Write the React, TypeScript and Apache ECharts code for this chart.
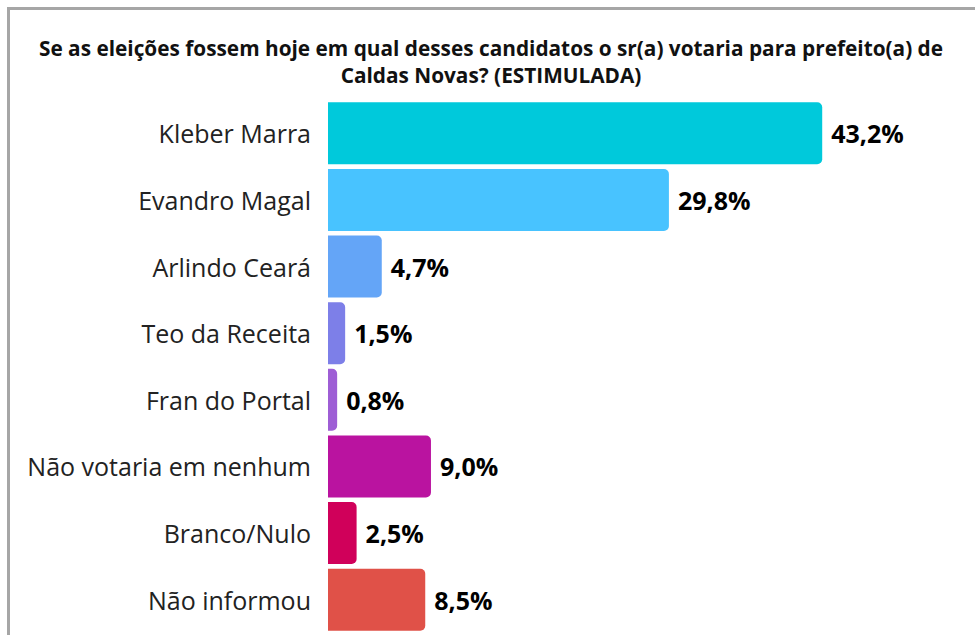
import React, { useEffect, useRef } from "react";
import * as echarts from "echarts";

const categories = [
  "Kleber Marra",
  "Evandro Magal",
  "Arlindo Ceará",
  "Teo da Receita",
  "Fran do Portal",
  "Não votaria em nenhum",
  "Branco/Nulo",
  "Não informou",
];
const values = [43.2, 29.8, 4.7, 1.5, 0.8, 9.0, 2.5, 8.5];
const colors = ["#00C9DB", "#48C3FF", "#64A5F7", "#7D7FE8", "#9E5ED5", "#BA13A0", "#D0005A", "#E05148"];
const titleText =
  "Se as eleições fossem hoje em qual desses candidatos o sr(a) votaria para prefeito(a) de\nCaldas Novas? (ESTIMULADA)";

export default function App() {
  const ref = useRef<HTMLDivElement>(null);
  useEffect(() => {
    document.body.style.margin = "0";
    const chart = echarts.init(ref.current!, undefined, { renderer: "svg" });
    chart.setOption({
      animation: false,
      backgroundColor: "#ffffff",
      title: {
        text: titleText,
        left: 486,
        textAlign: "center",
        top: 29,
        textStyle: {
          fontFamily: "Open Sans",
          fontWeight: "bold",
          fontSize: 20.8,
          lineHeight: 27,
          color: "#111111",
        },
      },
      graphic: [
        {
          type: "rect",
          shape: { x: 8.5, y: 8.5, width: 1100, height: 1000 },
          style: { fill: "none", stroke: "#a6a6a6", lineWidth: 3 },
          silent: true,
        },
      ],
      grid: { left: 328, top: 100, width: 572, height: 533, containLabel: false },
      xAxis: { type: "value", min: 0, max: 50, show: false },
      yAxis: {
        type: "category",
        data: categories,
        inverse: true,
        axisLine: { show: false },
        axisTick: { show: false },
        axisLabel: {
          fontFamily: "Open Sans",
          fontSize: 25,
          color: "#222222",
          margin: 17,
        },
      },
      series: [
        {
          type: "bar",
          data: values.map((v, i) => ({ value: v, itemStyle: { color: colors[i] } })),
          barWidth: 62,
          itemStyle: { borderRadius: [0, 5, 5, 0] },
          label: {
            show: true,
            position: "right",
            distance: 9,
            fontFamily: "Open Sans",
            fontWeight: "bold",
            fontSize: 25,
            color: "#000000",
            formatter: (p: any) => p.value.toFixed(1).replace(".", ",") + "%",
          },
        },
      ],
    });
    return () => chart.dispose();
  }, []);
  return <div ref={ref} style={{ width: 975, height: 635 }} />;
}
